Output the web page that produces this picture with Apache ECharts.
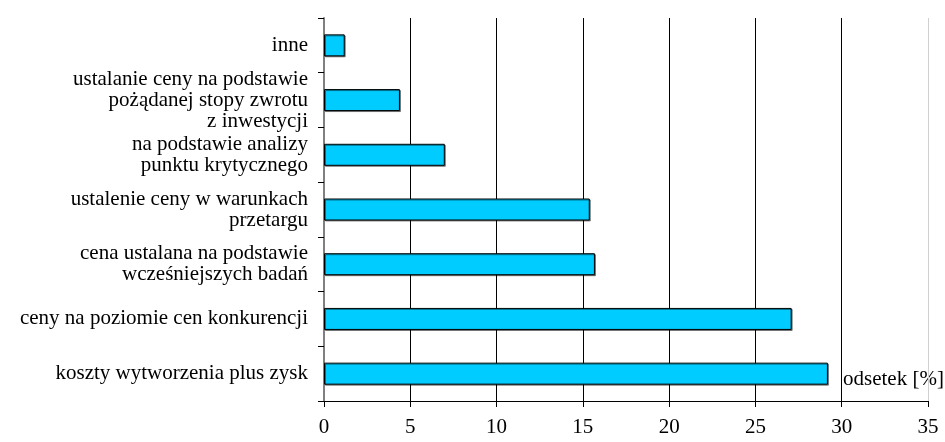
<!DOCTYPE html>
<html>
<head>
<meta charset="utf-8">
<script src="https://cdn.jsdelivr.net/npm/echarts@6/dist/echarts.min.js"></script>
<style>
  html, body { margin: 0; padding: 0; background: #fff; }
</style>
</head>
<body>
<div id="main" style="width: 945px;height: 442px"></div>

<script type="text/javascript">
    // kategorie od dołu do góry
    var categories = [
        'koszty wytworzenia plus zysk',
        'ceny na poziomie cen konkurencji',
        'cena ustalana na podstawie\nwcześniejszych badań',
        'ustalenie ceny w warunkach\nprzetargu',
        'na podstawie analizy\npunktu krytycznego',
        'ustalanie ceny na podstawie\npożądanej stopy zwrotu\nz inwestycji',
        'inne'
    ];
    var values = [29.2, 27.1, 15.7, 15.4, 7.0, 4.4, 1.2];
    var xTicks = [0, 5, 10, 15, 20, 25, 30, 35];
    var axisName = 'odsetek [%]';

    var font = '"Liberation Serif", "Times New Roman", serif';
    var myChart = echarts.init(document.getElementById('main'));

    var gridColors = xTicks.map(function (t, i) {
        return i === xTicks.length - 1 ? '#d0d0d0' : '#000';
    });

    var option = {
        animation: false,
        backgroundColor: '#fff',
        grid: { left: 324, right: 17, top: 18, bottom: 41, containLabel: false },
        xAxis: {
            type: 'value',
            min: xTicks[0],
            max: xTicks[xTicks.length - 1],
            interval: 5,
            axisLine: { show: true, lineStyle: { color: '#000', width: 1 } },
            axisTick: { show: true, length: 6, lineStyle: { color: '#000' } },
            axisLabel: { color: '#000', fontFamily: font, fontSize: 21, margin: 16 },
            splitLine: { show: true, lineStyle: { color: gridColors, width: 1 } }
        },
        yAxis: {
            type: 'category',
            data: categories,
            axisLine: { show: true, lineStyle: { color: '#808080', width: 2 } },
            axisTick: { show: true, length: 6, lineStyle: { color: '#000' } },
            axisLabel: {
                color: '#000', fontFamily: font, fontSize: 21, margin: 16,
                align: 'right', lineHeight: 21
            }
        },
        graphic: [{
            type: 'text',
            left: 843,
            top: 369,
            style: { text: axisName, font: '21px ' + font, fill: '#000' }
        }],
        series: [{
            type: 'bar',
            data: values,
            barWidth: 22,
            itemStyle: {
                color: '#00CCFF',
                borderColor: '#000',
                borderWidth: 1,
                shadowColor: 'rgba(0,0,0,0.45)',
                shadowOffsetX: 1,
                shadowOffsetY: 1
            }
        }]
    };

    myChart.setOption(option);
</script>
</body>
</html>
